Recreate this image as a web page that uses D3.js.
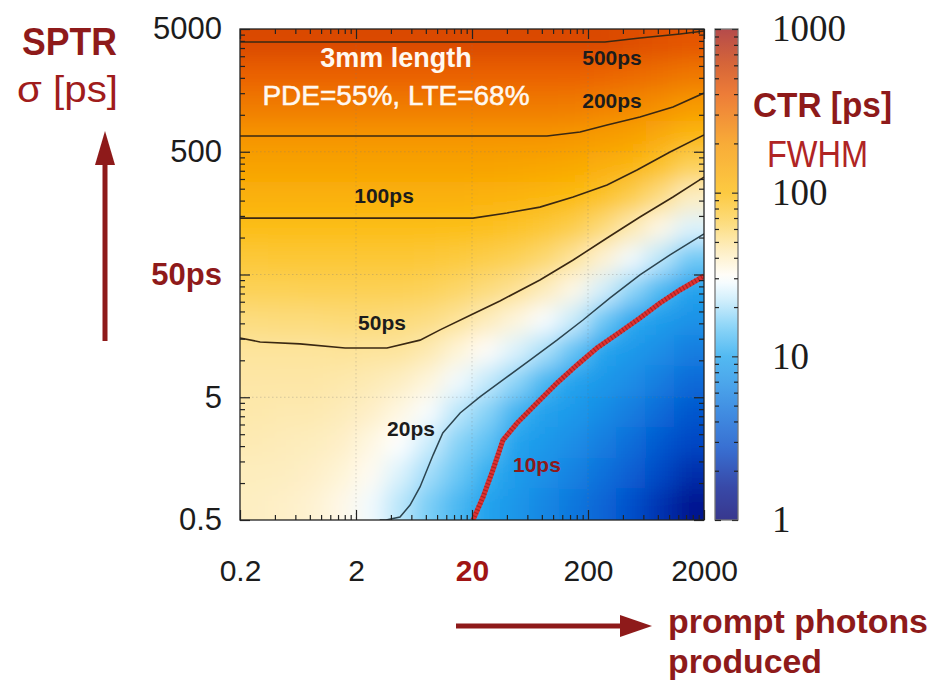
<!DOCTYPE html>
<html><head><meta charset="utf-8">
<script src="https://cdn.jsdelivr.net/npm/d3@7"></script>
<style>
html,body{margin:0;padding:0;background:#fff;}
svg{display:block;}
</style></head><body>
<svg id="c" width="930" height="688"></svg>
<script>
// ---------------- DATA ----------------
// heatmap cell centres: prompt photons (x) and SPTR sigma in ps (y, top to bottom)
const photonCols = [0.267,0.474,0.843,1.50,2.67,4.74,8.43,15.0,26.7,47.4,84.3,150,267,474,843,1500];
const sptrRows   = [3750,2109,1186,667,375,211,119,66.7,37.5,21.1,11.9,6.67,3.75,2.11,1.19,0.667];
// CTR FWHM [ps] per cell, rows top (sigma 3750) to bottom (sigma 0.667)
const ctrGrid = [
  [489,489,489,489,489,489,489,489,489,489,489,489,488,461,443,424],
  [362,362,362,362,362,362,362,362,362,362,362,359,349,327,307,280],
  [269,269,269,269,269,269,269,269,269,269,269,263,249,232,213,182],
  [200,200,200,200,200,200,200,200,200,200,200,193,177,161,136,108],
  [154,154,154,154,154,154,154,154,154,150,146,138,124,109,86,66],
  [119,119,119,119,119,119,119,119,117,113,107,99,86,71,55,41],
  [94,94,94,95,95,94,94,93,91,86,80,71,58,45,34,25],
  [79,80,80,80,80,80,79,76,72,67,60,50,38,28,21,15.2],
  [67,67,68,68,68,68,66,62,57,51,43,34,24,17.5,12.5,9.5],
  [56,57,57,58,58,57,55,50,43,36,29,22.6,15,10.4,8.8,7.4],
  [49,49,49,50,49,49,45,37,31,25,19.6,14.2,9.7,8.3,7.0,5.7],
  [47,47,47,46,44,41,36,28,22,17.4,12.2,9.6,8.1,6.9,5.6,4.4],
  [46,45,45,43,40,35,29,21,17,11.7,9.3,8.2,6.8,5.6,4.4,3.4],
  [44,43,42,40,35,30,23,17,14,9.5,8.2,7.0,5.7,4.6,3.5,2.7],
  [42,41.5,40,37,32,25,19,15,11.2,8.6,7.3,6.0,4.8,3.8,2.8,2.1],
  [41,39.7,38,34,28,21,16,12.4,9.6,7.9,6.4,5.2,4.1,3.1,2.2,1.6]
];
// iso-CTR contour lines: [prompt photons, sigma ps]
const ctr500 = [[0.2,3918],[280,3918],[561,4223],[1242,4553],[2000,4817]];
const ctr200 = [[0.2,672],[88.7,672],[171,725],[292,826],[561,960],[1081,1158],[2000,1505]];
const ctr100 = [[0.2,144],[20.4,144],[40.1,158.6],[77,177],[149,214],[292,268],[529,355],[1019,497],[2000,685]];
const ctr50  = [[0.2,15.2],[0.298,14.1],[0.658,13.6],[1.61,12.6],[3.70,12.6],[7.13,14.6],[10.6,17.7],[21.2,24.3],[34.8,30.4],[77,45.1],[149,65.6],[292,99.2],[561,147],[1081,214],[2000,311]];
const ctr20  = [[3.2,0.5],[3.63,0.5],[4.79,0.528],[5.85,0.662],[7.13,0.929],[9.23,1.69],[11.2,2.56],[15.8,3.72],[23.4,5.03],[37.0,6.92],[63.2,10.05],[108,14.6],[181,21.3],[310,32.2],[561,49.6],[1019,72.1],[2000,107]];
const ctr10  = [[20.4,0.5],[24.9,0.769],[30.3,1.28],[37.0,2.24],[48.9,3.08],[72.6,4.49],[108,6.53],[161,9.16],[239,12.6],[378,17.0],[561,22.1],[836,29.3],[1242,37.4],[2000,48.6]];
const contourLabelText  = ["500ps","200ps","100ps","50ps","20ps","10ps"];
const contourLabelN     = [322,322,3.49,3.35,5.96,72.6];
const contourLabelSigma = [2545,1136,191,17.7,2.42,1.23];
// ticks
const xTicks = [0.2,2,20,200,2000];
const xTickLabels = ["0.2","2","20","200","2000"];
const yTicks = [0.5,5,50,500,5000];
const yTickLabels = ["0.5","5","50ps","500","5000"];
const cbTicks = [1,10,100,1000];
const cbTickLabels = ["1","10","100","1000"];

// ---------------- DRAWING ----------------
const svg = d3.select("#c");
const x  = d3.scaleLog().domain([0.2,2000]).range([240,704]);
const y  = d3.scaleLog().domain([0.5,5000]).range([520,29]);
const cb = d3.scaleLog().domain([1,1000]).range([520,29]);
const color = d3.scaleLog()
  .domain([1,1.6,2.7,4.4,7,10,15,22,30,45,66,100,200,400,600,1000])
  .range(["#00006e","#001690","#0046c4","#0a6ad8","#1a8ee6","#22a6ee","#6ac8f5","#c4eafb","#ffffff","#fde9b0","#fcd258","#fcbb0c","#f69400","#e85800","#cc3c00","#a01818"])
  .clamp(true);

const defs = svg.append("defs");
const flt = defs.append("filter").attr("id","blur").attr("filterUnits","userSpaceOnUse")
  .attr("x",150).attr("y",-60).attr("width",650).attr("height",680);
flt.append("feGaussianBlur").attr("stdDeviation",11);
defs.append("clipPath").attr("id","plotclip").append("rect")
  .attr("x",x(0.2)).attr("y",y(5000)).attr("width",x(2000)-x(0.2)).attr("height",y(0.5)-y(5000));

function logEdges(v){
  const e=[];
  for(let i=0;i<v.length;i++) e.push(i===0 ? v[0]/Math.sqrt(v[1]/v[0]) : Math.sqrt(v[i-1]*v[i]));
  const n=v.length; e.push(v[n-1]*Math.sqrt(v[n-1]/v[n-2]));
  return e;
}
const xe = logEdges(photonCols);
const ye = logEdges(sptrRows.slice().reverse());
const cells=[];
sptrRows.forEach((s,ri)=>photonCols.forEach((n,ci)=>cells.push({ri,ci,v:ctrGrid[ri][ci]})));
const nC=photonCols.length, nR=sptrRows.length;
const hm = svg.append("g").attr("clip-path","url(#plotclip)").append("g").attr("filter","url(#blur)");
hm.selectAll("rect").data(cells).join("rect")
  .attr("x",d=>x(xe[d.ci]) - (d.ci===0?60:0) - 0.5)
  .attr("width",d=>x(xe[d.ci+1])-x(xe[d.ci]) + (d.ci===0?60:0) + (d.ci===nC-1?60:0) + 1)
  .attr("y",d=>y(ye[nR-d.ri]) - (d.ri===0?60:0) - 0.5)
  .attr("height",d=>y(ye[nR-1-d.ri])-y(ye[nR-d.ri]) + (d.ri===0?60:0) + (d.ri===nR-1?60:0) + 1)
  .attr("fill",d=>color(d.v));

// faint dotted grid
const grid = svg.append("g").attr("stroke","#777").attr("stroke-opacity",0.3).attr("stroke-dasharray","1.5,2.5").attr("stroke-width",1);
[2,20,200].forEach(v=>grid.append("line").attr("x1",x(v)).attr("x2",x(v)).attr("y1",y(5000)).attr("y2",y(0.5)));
[5,50,500].forEach(v=>grid.append("line").attr("y1",y(v)).attr("y2",y(v)).attr("x1",x(0.2)).attr("x2",x(2000)));

// contours
const line = d3.line().x(d=>x(d[0])).y(d=>y(d[1]));
const cg = svg.append("g").attr("clip-path","url(#plotclip)").attr("fill","none");
[ctr500,ctr200,ctr100,ctr50].forEach(c=>cg.append("path").attr("d",line(c)).attr("stroke","#3a2812").attr("stroke-width",1.6));
cg.append("path").attr("d",line(ctr20)).attr("stroke","#2c4550").attr("stroke-width",1.5);
cg.append("path").attr("d",line(ctr10)).attr("stroke","#de3232").attr("stroke-width",5);
cg.append("path").attr("d",line(ctr10)).attr("stroke","#961c1c").attr("stroke-width",5).attr("stroke-dasharray","1.2,2.3").attr("stroke-opacity",0.7);

// contour labels
svg.append("g").selectAll("text").data(contourLabelText).join("text")
  .attr("x",(d,i)=>x(contourLabelN[i])).attr("y",(d,i)=>y(contourLabelSigma[i]))
  .attr("text-anchor","middle").attr("font-family","Liberation Sans, Arial, sans-serif")
  .attr("font-weight","bold").attr("font-size",21)
  .attr("fill",d=>d==="10ps"?"#8e1a1a":"#1c1c1c").text(d=>d);

// annotation
svg.append("text").attr("x",396).attr("y",67).attr("text-anchor","middle")
  .attr("font-family","Liberation Sans, Arial, sans-serif").attr("font-weight","bold").attr("font-size",27)
  .attr("fill","#fff8f0").text("3mm length");
svg.append("text").attr("x",396).attr("y",105).attr("text-anchor","middle")
  .attr("font-family","Liberation Sans, Arial, sans-serif").attr("font-size",28)
  .attr("fill","#fff8f0").attr("stroke","#fff8f0").attr("stroke-width",0.5).text("PDE=55%, LTE=68%");

// frame
svg.append("rect").attr("x",x(0.2)).attr("y",y(5000)).attr("width",x(2000)-x(0.2)).attr("height",y(0.5)-y(5000))
  .attr("fill","none").attr("stroke","#222").attr("stroke-width",1.3);

// minor tick values
const xMinor=[], yMinor=[], cbMinor=[];
[0.2,2,20,200].forEach(b=>{for(let k=2;k<=9;k++) xMinor.push(b*k);});
[0.5,5,50,500].forEach(b=>{for(let k=2;k<=9;k++) yMinor.push(b*k);});
[1,10,100].forEach(b=>{for(let k=2;k<=9;k++) cbMinor.push(b*k);});

function styleAxis(g){ g.select(".domain").remove(); g.selectAll("line").attr("stroke","#222").attr("stroke-width",1.2); }
const fontSans = "Liberation Sans, Arial, sans-serif";
// bottom axis with labels
const gx = svg.append("g").attr("transform",`translate(0,${y(0.5)})`)
  .call(d3.axisBottom(x).tickValues(xTicks).tickSize(-10).tickPadding(40).tickFormat((d,i)=>xTickLabels[i]));
styleAxis(gx);
gx.selectAll("text").attr("font-family",fontSans).attr("font-size",30)
  .attr("font-weight",(d,i)=>xTickLabels[i]==="20"?"bold":"normal")
  .attr("fill",(d,i)=>xTickLabels[i]==="20"?"#a01414":"#1c1c1c");
styleAxis(svg.append("g").attr("transform",`translate(0,${y(0.5)})`).call(d3.axisBottom(x).tickValues(xMinor).tickSize(-5).tickFormat("")));
styleAxis(svg.append("g").attr("transform",`translate(0,${y(5000)})`).call(d3.axisTop(x).tickValues(xTicks).tickSize(-10).tickFormat("")));
styleAxis(svg.append("g").attr("transform",`translate(0,${y(5000)})`).call(d3.axisTop(x).tickValues(xMinor).tickSize(-5).tickFormat("")));
// left axis
const gy = svg.append("g").attr("transform",`translate(${x(0.2)},0)`)
  .call(d3.axisLeft(y).tickValues(yTicks).tickSize(-10).tickPadding(18).tickFormat((d,i)=>yTickLabels[i]));
styleAxis(gy);
gy.selectAll("text").attr("font-family",fontSans).attr("font-size",31)
  .attr("font-weight",(d,i)=>yTickLabels[i]==="50ps"?"bold":"normal")
  .attr("fill",(d,i)=>yTickLabels[i]==="50ps"?"#8e1a1a":"#1c1c1c");
styleAxis(svg.append("g").attr("transform",`translate(${x(0.2)},0)`).call(d3.axisLeft(y).tickValues(yMinor).tickSize(-5).tickFormat("")));
styleAxis(svg.append("g").attr("transform",`translate(${x(2000)},0)`).call(d3.axisRight(y).tickValues(yTicks).tickSize(-10).tickFormat("")));
styleAxis(svg.append("g").attr("transform",`translate(${x(2000)},0)`).call(d3.axisRight(y).tickValues(yMinor).tickSize(-5).tickFormat("")));

// colorbar
const cbx0=715, cbx1=738;
const grad = defs.append("linearGradient").attr("id","cbgrad").attr("x1",0).attr("x2",0).attr("y1",1).attr("y2",0);
d3.range(0,61).forEach(i=>{const v=Math.pow(10,3*i/60); grad.append("stop").attr("offset",i/60).attr("stop-color",color(v));});
svg.append("rect").attr("x",cbx0).attr("y",cb(1000)).attr("width",cbx1-cbx0).attr("height",cb(1)-cb(1000))
  .attr("fill","url(#cbgrad)").attr("fill-opacity",0.78);
svg.append("rect").attr("x",cbx0).attr("y",cb(1000)).attr("width",cbx1-cbx0).attr("height",cb(1)-cb(1000))
  .attr("fill","none").attr("stroke","#777").attr("stroke-width",1.3);
const gcb = svg.append("g").attr("transform",`translate(${cbx1},0)`)
  .call(d3.axisRight(cb).tickValues(cbTicks).tickSize(-6).tickPadding(34).tickFormat((d,i)=>cbTickLabels[i]));
styleAxis(gcb);
gcb.selectAll("line").attr("stroke","#333");
gcb.selectAll("text").attr("font-family","Liberation Serif, Times New Roman, serif").attr("font-size",37).attr("fill","#1c1c1c");
styleAxis(svg.append("g").attr("transform",`translate(${cbx1},0)`).call(d3.axisRight(cb).tickValues(cbMinor).tickSize(-4).tickFormat("")));
styleAxis(svg.append("g").attr("transform",`translate(${cbx0},0)`).call(d3.axisLeft(cb).tickValues(cbTicks).tickSize(-6).tickFormat("")));
styleAxis(svg.append("g").attr("transform",`translate(${cbx0},0)`).call(d3.axisLeft(cb).tickValues(cbMinor).tickSize(-4).tickFormat("")));

// axis titles
const dark="#8e1a1a";
svg.append("text").attr("x",22).attr("y",55).attr("font-family",fontSans).attr("font-weight","bold")
  .attr("font-size",39).attr("textLength",95).attr("lengthAdjust","spacingAndGlyphs").attr("fill",dark).text("SPTR");
svg.append("text").attr("x",17).attr("y",102).attr("font-family",fontSans)
  .attr("font-size",37).attr("textLength",101).attr("lengthAdjust","spacingAndGlyphs").attr("fill","#a01c1c").text("σ [ps]");
svg.append("text").attr("x",753).attr("y",117).attr("font-family",fontSans).attr("font-weight","bold")
  .attr("font-size",35).attr("textLength",139).attr("lengthAdjust","spacingAndGlyphs").attr("fill",dark).text("CTR [ps]");
svg.append("text").attr("x",767).attr("y",167).attr("font-family",fontSans)
  .attr("font-size",36).attr("textLength",101).attr("lengthAdjust","spacingAndGlyphs").attr("fill","#b02424").text("FWHM");
svg.append("text").attr("x",668).attr("y",633).attr("font-family",fontSans).attr("font-weight","bold")
  .attr("font-size",34).attr("textLength",260).attr("lengthAdjust","spacingAndGlyphs").attr("fill",dark).text("prompt photons");
svg.append("text").attr("x",668).attr("y",673).attr("font-family",fontSans).attr("font-weight","bold")
  .attr("font-size",34).attr("textLength",154).attr("lengthAdjust","spacingAndGlyphs").attr("fill",dark).text("produced");

// arrows
svg.append("line").attr("x1",105).attr("x2",105).attr("y1",341).attr("y2",160).attr("stroke",dark).attr("stroke-width",5);
svg.append("path").attr("d","M105,131 L95,165 L115,165 Z").attr("fill",dark);
svg.append("line").attr("x1",456).attr("x2",625).attr("y1",626).attr("y2",626).attr("stroke",dark).attr("stroke-width",5);
svg.append("path").attr("d","M652,626 L620,615 L620,637 Z").attr("fill",dark);
</script>
</body></html>
